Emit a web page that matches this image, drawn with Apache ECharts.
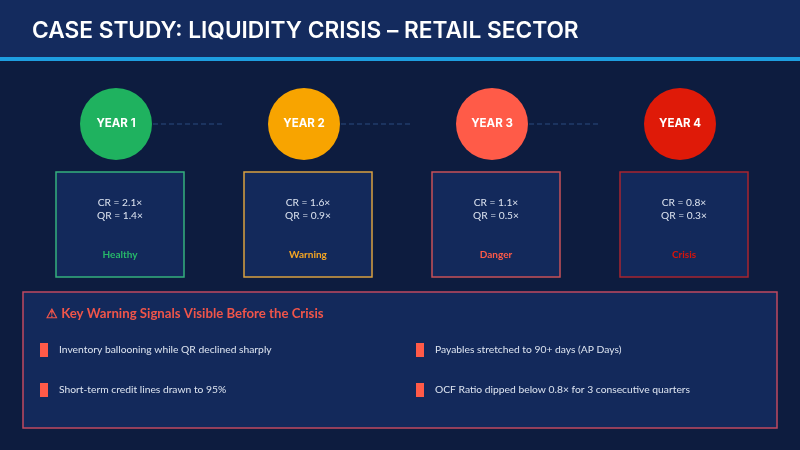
<!DOCTYPE html>
<html><head><meta charset="utf-8">
<script src="https://cdn.jsdelivr.net/npm/echarts@6/dist/echarts.min.js"></script>
<style>html,body{margin:0;padding:0;background:#0d1c3f}#c{width:800px;height:450px}</style>
</head><body><div id="c"></div>
<script>
const titleText = 'CASE STUDY: LIQUIDITY CRISIS \u2013 RETAIL SECTOR';
const years = ['YEAR 1', 'YEAR 2', 'YEAR 3', 'YEAR 4'];
const currentRatio = [2.1, 1.6, 1.1, 0.8];
const quickRatio = [1.4, 0.9, 0.5, 0.3];
const statuses = ['Healthy', 'Warning', 'Danger', 'Crisis'];
const stageColors = ['#1fb25f', '#f8a400', '#ff5b48', '#df1a08'];
const borderColors = ['#34b07e', '#d9a040', '#c85058', '#a82530'];
const statusColors = ['#27b86a', '#f5a623', '#ff5a48', '#d8140a'];
const warningTitle = '\u26A0 Key Warning Signals Visible Before the Crisis';
const warnings = [
  'Inventory ballooning while QR declined sharply',
  'Payables stretched to 90+ days (AP Days)',
  'Short-term credit lines drawn to 95%',
  'OCF Ratio dipped below 0.8\u00d7 for 3 consecutive quarters'
];

const bodyFont = 'Lato, "Open Sans", sans-serif';
const headFont = 'Inter, Roboto, sans-serif';

const chart = echarts.init(document.getElementById('c'), null, {renderer: 'canvas'});

const graphics = [
  {type: 'rect', shape: {x: 0, y: 0, width: 800, height: 57}, style: {fill: '#142b5e'}, z: 0},
  {type: 'rect', shape: {x: 0, y: 57, width: 800, height: 4}, style: {fill: '#1e9ee0'}, z: 0},
  {type: 'text', x: 32, y: 31, style: {text: titleText, fill: '#ffffff', font: '600 22.7px ' + headFont, verticalAlign: 'middle'}, z: 1},
  {type: 'rect', shape: {x: 23, y: 292, width: 754, height: 136}, style: {fill: '#13295b', stroke: '#c04860', lineWidth: 1.5}, z: 0},
  {type: 'text', x: 46, y: 314, style: {text: warningTitle, fill: '#f0554a', font: 'bold 13.2px ' + bodyFont, verticalAlign: 'middle'}, z: 1}
];
warnings.forEach((w, i) => {
  const col = i % 2, row = Math.floor(i / 2);
  const bx = col === 0 ? 40 : 416;
  const by = 350 + row * 40;
  graphics.push({type: 'rect', shape: {x: bx, y: by - 7, width: 8, height: 14}, style: {fill: '#ff5a48'}, z: 1});
  graphics.push({type: 'text', x: bx + 19, y: by, style: {text: w, fill: '#dde4f0', font: '10.3px ' + bodyFont, verticalAlign: 'middle'}, z: 1});
});

const option = {
  backgroundColor: '#0d1c3f',
  animation: false,
  graphic: graphics,
  grid: {left: 22, width: 752, top: 88, height: 72},
  xAxis: {type: 'category', data: years, show: false},
  yAxis: {type: 'category', data: ['stage'], show: false},
  series: [
    {
      type: 'custom',
      z: 1,
      data: years.map((y, i) => [y, 'stage', currentRatio[i], quickRatio[i]]),
      renderItem: function (params, api) {
        const i = params.dataIndex;
        const p = api.coord([api.value(0), api.value(1)]);
        const children = [];
        if (i < years.length - 1) {
          children.push({type: 'line', shape: {x1: p[0] + 37, y1: p[1], x2: p[0] + 107, y2: p[1]},
            style: {stroke: '#2a4a80', lineWidth: 1, lineDash: [5, 3]}});
        }
        const cx = p[0] + 4;
        children.push({type: 'rect', shape: {x: cx - 64, y: p[1] + 48, width: 128, height: 105},
          style: {fill: '#13295b', stroke: borderColors[i], lineWidth: 1.5}});
        children.push({type: 'text', style: {text: 'CR = ' + api.value(2).toFixed(1) + '\u00d7', x: cx, y: p[1] + 79,
          fill: '#dde4f0', font: '10.2px ' + bodyFont, align: 'center', verticalAlign: 'middle'}});
        children.push({type: 'text', style: {text: 'QR = ' + api.value(3).toFixed(1) + '\u00d7', x: cx, y: p[1] + 92,
          fill: '#dde4f0', font: '10.2px ' + bodyFont, align: 'center', verticalAlign: 'middle'}});
        children.push({type: 'text', style: {text: statuses[i], x: cx, y: p[1] + 131,
          fill: statusColors[i], font: 'bold 10px ' + bodyFont, align: 'center', verticalAlign: 'middle'}});
        return {type: 'group', children: children};
      }
    },
    {
      type: 'scatter',
      z: 3,
      symbolSize: 72,
      data: years.map((y, i) => ({value: [y, 'stage'], itemStyle: {color: stageColors[i], opacity: 1}})),
      label: {show: true, position: 'inside', color: '#ffffff', fontFamily: headFont, fontWeight: 'bold', fontSize: 11.5,
        formatter: (p) => p.value[0]},
      emphasis: {disabled: true}
    }
  ]
};
chart.setOption(option);
</script></body></html>
